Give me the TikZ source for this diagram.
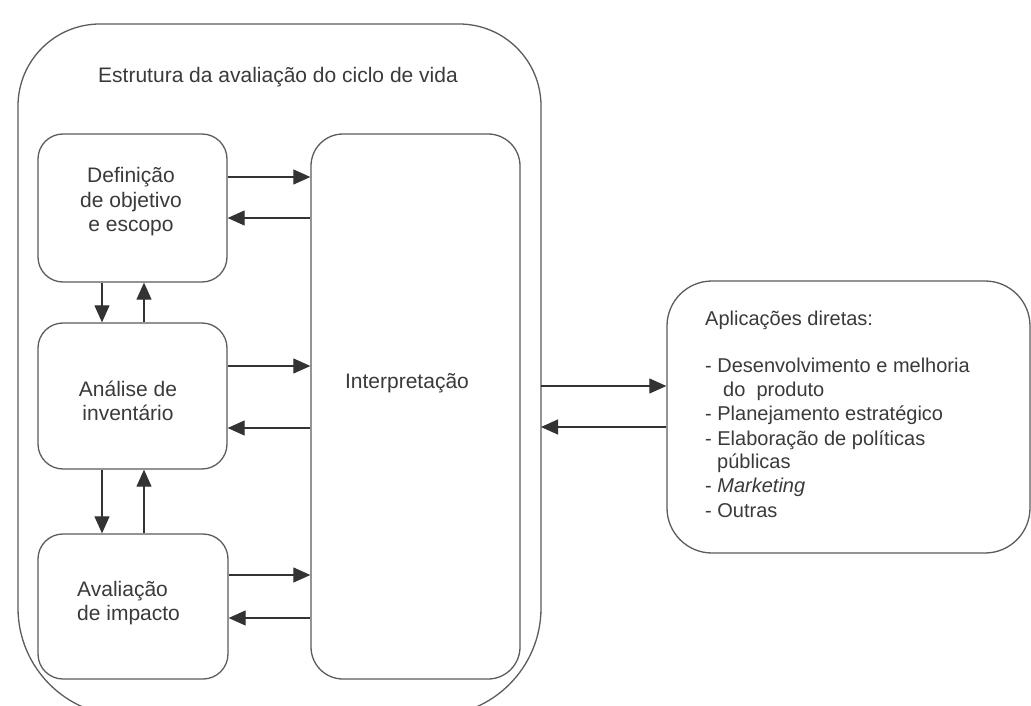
\documentclass[tikz,border=0pt]{standalone}
\usepackage{fontspec}
\setmainfont{Liberation Sans}
\usetikzlibrary{arrows.meta}
\definecolor{txt}{HTML}{3A3A3A}
\definecolor{ln}{HTML}{5C5C5C}
\begin{document}
\begin{tikzpicture}[x=1pt,y=-1pt,
  rbox/.style={draw=ln, line width=1.3pt, rounded corners=#1, inner sep=0pt},
  lbl/.style={text=txt, inner sep=0pt, font=\fontsize{21}{24.5}\selectfont},
  alb/.style={text=txt, inner sep=0pt, anchor=base west, font=\fontsize{20}{24}\selectfont},
  arr/.style={draw=black!80, line width=1.1pt, -{Triangle[length=17pt,width=15pt]}}]
\useasboundingbox (0,0) rectangle (1031,706);
\fill[white] (0,0) rectangle (1031,706);
% outer frame
\draw[ln, line width=1.3pt, rounded corners=82] (18,400) |- (541,24) -- (541,400);
\draw[ln, line width=1.3pt, rounded corners=108] (18,400) |- (541,716) -- (541,400);
\coordinate (outerE) at (541,400);
\node[lbl] (title) at (278,77) {Estrutura da avaliação do ciclo de vida};
% boxes
\node[rbox=25, minimum width=189pt, minimum height=148pt] (b1) at (132.5,208) {};
\node[rbox=25, minimum width=189pt, minimum height=146pt] (b2) at (132.5,396) {};
\node[rbox=25, minimum width=190pt, minimum height=145pt] (b3) at (133,606.5) {};
\node[rbox=32, minimum width=209pt, minimum height=545pt] (interp) at (415.5,406.5) {};
\node[rbox=45, minimum width=363pt, minimum height=272pt] (apps) at (848.5,417) {};
% texts
\node[lbl, align=center] (t1) at (131,202) {Definição\\de objetivo\\e escopo};
\node[lbl, align=center] (t2) at (128,401) {Análise de\\inventário};
\node[lbl, align=left, anchor=west] (t3) at (77,603) {Avaliação\\de impacto};
\node[lbl] (t4) at (407,383) {Interpretação};
\node[alb] (a1) at (705,325) {Aplicações diretas:};
\node[alb] (a2) at (705,372) {- Desenvolvimento e melhoria};
\node[alb] (a3) at (723,396) {do\ \ produto};
\node[alb] (a4) at (705,420) {- Planejamento estratégico};
\node[alb] (a5) at (705,445) {- Elaboração de políticas};
\node[alb] (a6) at (717,468) {públicas};
\node[alb] (a7) at (705,492) {- \textit{Marketing}};
\node[alb] (a8) at (705,517) {- Outras};
% horizontal connectors
\draw[arr] (b1.east |- 0,177) -- (interp.west |- 0,177);
\draw[arr] (interp.west |- 0,218) -- (b1.east |- 0,218);
\draw[arr] (b2.east |- 0,366) -- (interp.west |- 0,366);
\draw[arr] (interp.west |- 0,428) -- (b2.east |- 0,428);
\draw[arr] (b3.east |- 0,575) -- (interp.west |- 0,575);
\draw[arr] (interp.west |- 0,618) -- (b3.east |- 0,618);
% vertical connectors
\draw[arr] (b1.south -| 102,0) -- (b2.north -| 102,0);
\draw[arr] (b2.north -| 144,0) -- (b1.south -| 144,0);
\draw[arr] (b2.south -| 102,0) -- (b3.north -| 102,0);
\draw[arr] (b3.north -| 144,0) -- (b2.south -| 144,0);
% to applications
\draw[arr] (outerE |- 0,386) -- (apps.west |- 0,386);
\draw[arr] (apps.west |- 0,427) -- (outerE |- 0,427);
\end{tikzpicture}
\end{document}
